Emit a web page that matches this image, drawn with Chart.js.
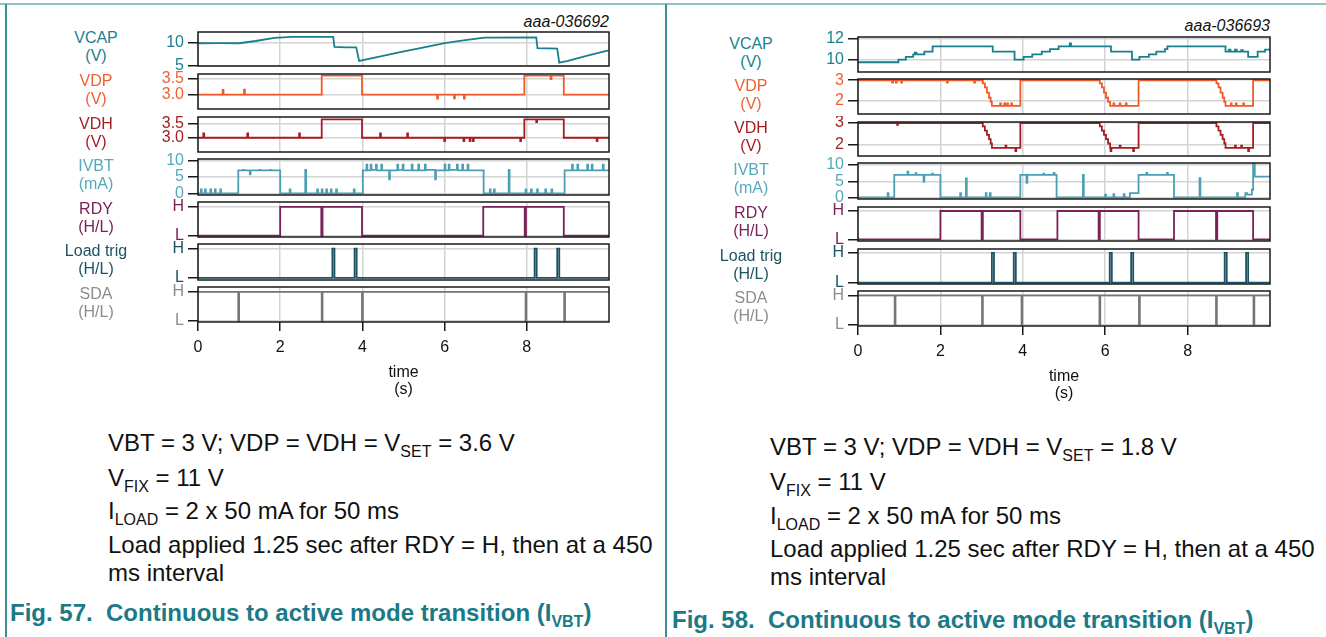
<!DOCTYPE html>
<html>
<head>
<meta charset="utf-8">
<script src="https://cdn.jsdelivr.net/npm/chart.js@4.4.1/dist/chart.umd.min.js"></script>
<style>
  body { margin: 0; width: 1326px; height: 637px; background: #fff; position: relative; overflow: hidden;
         font-family: 'Liberation Sans', Arial, sans-serif; }
  canvas { position: absolute; }
  .line { position: absolute; }
  .lbl { position: absolute; transform: translate(-50%, -50%); text-align: center; font-size: 16px; line-height: 18px; white-space: nowrap; }
  .txt { position: absolute; font-size: 24px; line-height: 28px; color: #111; white-space: nowrap; }
  .fig { position: absolute; font-size: 24px; line-height: 28px; font-weight: bold; color: #1b7a86; white-space: nowrap; }
  .code { position: absolute; font-size: 16px; font-style: italic; color: #111; white-space: nowrap; transform: translate(-100%, -50%); }
  sub { font-size: 16px; vertical-align: -6px; line-height: 0; }
</style>
</head>
<body>
<div class="line" style="left:0;top:3px;width:1326px;height:2px;background:#8fc1c7"></div>
<div class="line" style="left:5px;top:4px;width:2px;height:633px;background:#3b8f99"></div>
<div class="line" style="left:665px;top:4px;width:2px;height:633px;background:#3b8f99"></div>

<div class="code" style="left:609px;top:22px">aaa-036692</div>
<div class="code" style="left:1270px;top:26px">aaa-036693</div>

<div class="txt" style="left:108px;top:429px">VBT = 3 V; VDP = VDH = V<sub>SET</sub> = 3.6 V</div>
<div class="txt" style="left:108px;top:464px">V<sub>FIX</sub> = 11 V</div>
<div class="txt" style="left:108px;top:497px">I<sub>LOAD</sub> = 2 x 50 mA for 50 ms</div>
<div class="txt" style="left:108px;top:531px">Load applied 1.25 sec after RDY = H, then at a 450</div>
<div class="txt" style="left:108px;top:559px">ms interval</div>
<div class="fig" style="left:10px;top:599px">Fig. 57.&nbsp;&nbsp;Continuous to active mode transition (I<sub>VBT</sub>)</div>

<div class="txt" style="left:770px;top:433px">VBT = 3 V; VDP = VDH = V<sub>SET</sub> = 1.8 V</div>
<div class="txt" style="left:770px;top:468px">V<sub>FIX</sub> = 11 V</div>
<div class="txt" style="left:770px;top:502px">I<sub>LOAD</sub> = 2 x 50 mA for 50 ms</div>
<div class="txt" style="left:770px;top:535px">Load applied 1.25 sec after RDY = H, then at a 450</div>
<div class="txt" style="left:770px;top:563px">ms interval</div>
<div class="fig" style="left:672px;top:606px">Fig. 58.&nbsp;&nbsp;Continuous to active mode transition (I<sub>VBT</sub>)</div>

<script>
// time axis ticks (s)
const X_TICKS = [0, 2, 4, 6, 8];

// ---- Fig. 57 (VSET = 3.6 V), [time s, value] ----
const vcap57 = [[0,9.9],[0.5,9.95],[1.0,9.9],[1.4,10.4],[1.86,11.1],[2.29,11.3],[3.29,11.3],[3.32,9.1],[3.6,9.0],[3.85,9.0],[3.92,6.0],[4.3,6.7],[4.95,8.0],[5.5,9.0],[6.0,9.95],[6.5,10.6],[6.97,11.15],[8.23,11.2],[8.26,8.8],[8.74,8.7],[8.79,5.6],[9.0,6.0],[9.5,7.2],[9.99,8.3]];
const vdp57 = [[0,3.0],[0.6,3.15],[0.62,3.0],[1.12,3.16],[1.14,3.0],[3.01,3.61],[3.99,3.0],[5.82,2.87],[5.84,3.0],[6.23,2.88],[6.25,3.0],[6.47,2.87],[6.49,3.0],[7.94,3.61],[8.58,3.5],[8.6,3.61],[8.9,3.0],[10,3.0]];
const vdh57 = [[0,3.0],[0.13,3.15],[0.15,3.0],[1.2,3.15],[1.22,3.0],[2.46,3.15],[2.48,3.0],[3.01,3.65],[3.99,3.0],[4.43,3.15],[4.45,3.0],[5.09,3.15],[5.11,3.0],[5.99,2.88],[6.01,3.0],[6.46,2.88],[6.48,3.0],[6.61,2.88],[6.63,3.0],[6.69,2.88],[6.71,3.0],[7.84,2.88],[7.86,3.0],[7.94,3.65],[8.23,3.55],[8.25,3.65],[8.9,3.0],[9.7,2.88],[9.72,3.0],[10,3.0]];
const ivbt57 = [[0,0],[0.07,1.2],[0.09,0],[0.17,1.2],[0.19,0],[0.3,1.2],[0.32,0],[0.41,1.2],[0.43,0],[0.54,1.2],[0.56,0],
  [0.98,7.0],[1.1,7.2],[1.12,7.0],[1.26,5.8],[1.28,7.0],[1.5,7.2],[1.52,7.0],[1.75,7.2],[1.77,7.0],
  [2.0,0],[2.23,1.2],[2.25,0],[2.61,7.2],[2.63,0],[2.9,1.2],[2.92,0],[3.01,1.2],[3.03,0],[3.12,1.2],[3.14,0],[3.23,1.2],[3.25,0],[3.36,1.2],[3.38,0],[3.79,1.2],[3.81,0],
  [4.01,7.0],[4.1,8.8],[4.12,7.0],[4.2,8.8],[4.22,7.2],[4.33,8.8],[4.35,7.0],[4.46,8.8],[4.48,7.0],[4.65,4.3],[4.67,7.0],[4.85,8.8],[4.87,7.2],[4.98,8.8],[5.0,7.0],[5.2,8.8],[5.22,7.0],[5.36,8.8],[5.38,7.0],[5.52,8.8],[5.54,7.2],[5.77,4.3],[5.79,7.0],[6.0,8.8],[6.02,7.0],[6.1,8.8],[6.12,7.2],[6.3,8.8],[6.32,7.0],[6.43,8.8],[6.45,7.0],[6.56,8.8],[6.58,7.0],
  [6.95,0],[7.1,1.2],[7.12,0],[7.2,1.2],[7.22,0],[7.56,7.2],[7.58,0],[7.97,1.2],[7.99,0],[8.1,1.2],[8.12,0],[8.25,1.2],[8.27,0],[8.45,1.2],[8.47,0],[8.6,1.2],[8.62,0],
  [8.92,7.0],[9.1,8.8],[9.12,7.0],[9.23,8.8],[9.25,7.0],[9.47,8.8],[9.49,7.0],[9.58,8.8],[9.6,7.0],[9.85,8.8],[9.87,7.0],[10,7.0]];
const rdy57 = [[0,0],[2.0,1],[3.0,0],[3.03,1],[3.99,0],[6.94,1],[7.95,0],[7.98,1],[8.9,0],[10,0]];
const load57 = [[0,0],[3.27,1],[3.32,0],[3.81,1],[3.86,0],[8.19,1],[8.24,0],[8.74,1],[8.79,0],[10,0]];
const sda57 = [[0,1],[0.98,0],[1.0,1],[3.01,0],[3.03,1],[3.99,0],[4.01,1],[7.97,0],[7.99,1],[8.91,0],[8.93,1],[10,1]];

// ---- Fig. 58 (VSET = 1.8 V) ----
const vcap58 = [[0,9.75],[0.98,10.0],[1.16,10.25],[1.34,10.5],[1.38,10.65],[1.42,10.5],[1.61,10.75],[1.81,11.25],
  [3.27,10.75],[3.8,10.0],[4.02,10.25],[4.23,10.5],[4.46,10.75],[4.66,11.0],[4.87,11.25],[5.14,11.55],[5.17,11.25],
  [6.14,10.75],[6.65,10.0],[6.83,10.25],[7.06,10.5],[7.24,10.75],[7.45,11.0],[7.51,11.25],
  [8.92,10.75],[9.0,10.95],[9.04,10.75],[9.15,10.95],[9.19,10.75],[9.3,10.9],[9.34,10.75],[9.47,10.25],[9.7,10.75],[9.88,10.95],[10,10.95]];
const vdp58 = [[0,3.0],[0.83,2.88],[0.85,3.0],[0.92,2.88],[0.94,3.0],[1.05,2.88],[1.07,3.0],[2.16,2.88],[2.18,3.0],[2.82,2.88],[2.84,3.0],
  [3.03,2.85],[3.08,2.65],[3.13,2.4],[3.18,2.15],[3.22,1.95],[3.25,1.75],[3.45,1.88],[3.47,1.75],[3.55,1.88],[3.57,1.75],[3.62,1.88],[3.64,1.75],[3.72,1.88],[3.74,1.75],[3.94,3.0],
  [5.87,2.85],[5.92,2.65],[5.97,2.4],[6.02,2.15],[6.07,1.95],[6.12,1.75],[6.2,1.88],[6.22,1.75],[6.35,1.88],[6.37,1.75],[6.5,1.88],[6.52,1.75],[6.81,3.0],
  [8.7,2.85],[8.75,2.65],[8.8,2.4],[8.85,2.15],[8.89,1.95],[8.92,1.75],[9.05,1.88],[9.07,1.75],[9.17,1.88],[9.19,1.75],[9.35,1.88],[9.37,1.75],[9.59,3.0],[10,3.0]];
const vdh58 = [[0,3.0],[0.95,2.92],[0.97,3.0],
  [3.03,2.85],[3.08,2.65],[3.13,2.45],[3.18,2.25],[3.22,2.05],[3.25,1.85],[3.58,1.95],[3.6,1.85],[3.82,1.7],[3.84,1.85],[3.94,3.0],
  [5.87,2.85],[5.92,2.65],[5.97,2.45],[6.02,2.25],[6.07,2.05],[6.12,1.85],[6.13,1.7],[6.15,1.85],[6.35,1.95],[6.37,1.85],[6.68,1.7],[6.7,1.85],[6.81,3.0],
  [8.7,2.85],[8.75,2.65],[8.8,2.45],[8.85,2.25],[8.89,2.05],[8.92,1.85],[9.15,1.95],[9.17,1.85],[9.3,1.95],[9.32,1.85],[9.47,1.7],[9.49,1.85],[9.59,3.0],[10,3.0]];
const ivbt58 = [[0,0.2],[0.72,1.5],[0.74,0.2],[0.88,7.0],[1.2,8.0],[1.22,7.0],[1.4,7.5],[1.42,7.0],[1.59,5.0],[1.61,7.0],[1.8,7.4],[1.82,7.0],
  [2.0,0.2],[2.48,1.5],[2.5,0.2],[2.62,5.9],[2.64,0.2],[3.1,1.5],[3.12,0.2],[3.2,1.5],[3.22,0.2],
  [3.94,7.0],[4.09,4.6],[4.11,7.0],[4.5,7.4],[4.52,7.0],[4.75,7.6],[4.77,7.0],[4.82,0.2],
  [5.46,7.0],[5.48,0.2],[6.0,1.0],[6.02,0.2],[6.2,1.2],[6.22,0.2],[6.45,1.2],[6.47,0.2],[6.6,1.5],
  [6.81,7.0],[7.0,7.6],[7.02,7.0],[7.5,7.6],[7.52,7.0],[7.67,0.2],
  [8.29,6.0],[8.31,0.2],[9.2,1.5],[9.22,0.2],[9.4,1.5],[9.45,1.0],[9.56,2.5],[9.59,10.4],[9.63,6.5],[10,6.5]];
const rdy58 = [[0,0],[2.0,1],[3.0,0],[3.03,1],[3.94,0],[4.84,1],[5.84,0],[5.87,1],[6.81,0],[7.67,1],[8.69,0],[8.72,1],[9.59,0],[10,0]];
const load58 = [[0,0],[3.25,1],[3.3,0],[3.78,1],[3.83,0],[6.11,1],[6.16,0],[6.63,1],[6.68,0],[8.9,1],[8.95,0],[9.42,1],[9.47,0],[10,0]];
const sda58 = [[0,1],[0.89,0],[0.91,1],[3.01,0],[3.03,1],[3.97,0],[3.99,1],[5.86,0],[5.88,1],[6.82,0],[6.84,1],[8.69,0],[8.71,1],[9.6,0],[9.62,1],[10,1]];

// y tick values and their labels
const vcapTicks57 = [5, 10], vcapLabels57 = ['5', '10'];
const vTicks57 = [3.0, 3.5], vLabels57 = ['3.0', '3.5'];
const vcapTicks58 = [10, 12], vcapLabels58 = ['10', '12'];
const vTicks58 = [2, 3], vLabels58 = ['2', '3'];
const iTicks = [0, 5, 10], iLabels = ['0', '5', '10'];
const hlTicks = [0, 1], hlLabels = ['L', 'H'];

const LINE = { vcap:'#17808c', vdp:'#f05a28', vdh:'#a51d22', ivbt:'#4a9fb4', rdy:'#7b2159', load:'#1d5262', sda:'#767676' };
const TEXT = { vcap:'#1b8190', vdp:'#f26031', vdh:'#a51d22', ivbt:'#55a9bd', rdy:'#7b2159', load:'#1d5262', sda:'#8c8c8c' };

Chart.defaults.font.family = "'Liberation Sans', Arial, sans-serif";
Chart.defaults.font.size = 16;

const boxPlugin = {
  id: 'box',
  afterDraw(chart) {
    const { ctx, chartArea: a } = chart;
    ctx.save();
    ctx.strokeStyle = '#1a1a1a';
    ctx.lineWidth = 1.5;
    ctx.strokeRect(a.left, a.top, a.right - a.left, a.bottom - a.top);
    ctx.restore();
  }
};

const panels = [
  { left: 198, right: 609, labelX: 96, rows: [
    { name:['VCAP','(V)'], key:'vcap', top:32, bottom:66, data:vcap57, min:4.85, max:12.4, ticks:vcapTicks57, labels:vcapLabels57, stepped:false },
    { name:['VDP','(V)'], key:'vdp', top:74, bottom:109, data:vdp57, min:2.54, max:3.66, ticks:vTicks57, labels:vLabels57, stepped:true },
    { name:['VDH','(V)'], key:'vdh', top:117, bottom:152, data:vdh57, min:2.5, max:3.73, ticks:vTicks57, labels:vLabels57, stepped:true },
    { name:['IVBT','(mA)'], key:'ivbt', top:159, bottom:195, data:ivbt57, min:-0.5, max:10.5, ticks:iTicks, labels:iLabels, stepped:true },
    { name:['RDY','(H/L)'], key:'rdy', top:202, bottom:237, data:rdy57, min:-0.044, max:1.17, ticks:hlTicks, labels:hlLabels, stepped:true },
    { name:['Load trig','(H/L)'], key:'load', top:244, bottom:280, data:load57, min:-0.07, max:1.16, ticks:hlTicks, labels:hlLabels, stepped:true },
    { name:['SDA','(H/L)'], key:'sda', top:287, bottom:322, data:sda57, min:-0.034, max:1.17, ticks:hlTicks, labels:hlLabels, stepped:true }
  ]},
  { left: 858, right: 1270, labelX: 751, rows: [
    { name:['VCAP','(V)'], key:'vcap', top:37, bottom:72, data:vcap58, min:8.82, max:12.15, ticks:vcapTicks58, labels:vcapLabels58, stepped:true },
    { name:['VDP','(V)'], key:'vdp', top:79, bottom:114, data:vdp58, min:1.36, max:3.06, ticks:vTicks58, labels:vLabels58, stepped:true },
    { name:['VDH','(V)'], key:'vdh', top:122, bottom:156, data:vdh58, min:1.47, max:3.05, ticks:vTicks58, labels:vLabels58, stepped:true },
    { name:['IVBT','(mA)'], key:'ivbt', top:163, bottom:199, data:ivbt58, min:-0.3, max:10.6, ticks:iTicks, labels:iLabels, stepped:true },
    { name:['RDY','(H/L)'], key:'rdy', top:207, bottom:241, data:rdy58, min:-0.055, max:1.14, ticks:hlTicks, labels:hlLabels, stepped:true },
    { name:['Load trig','(H/L)'], key:'load', top:249, bottom:284, data:load58, min:-0.043, max:1.13, ticks:hlTicks, labels:hlLabels, stepped:true },
    { name:['SDA','(H/L)'], key:'sda', top:291, bottom:326, data:sda58, min:-0.054, max:1.15, ticks:hlTicks, labels:hlLabels, stepped:true }
  ]}
];

const AXW = 62, PADT = 6, PADR = 6, PADB = 6, XAXH = 80;

function addRow(panel, row, isBottom) {
  const cv = document.createElement('canvas');
  cv.width = panel.right - panel.left + AXW + PADR;
  cv.height = row.bottom - row.top + PADT + (isBottom ? XAXH : PADB);
  cv.style.left = (panel.left - AXW) + 'px';
  cv.style.top = (row.top - PADT) + 'px';
  document.body.appendChild(cv);

  const lbl = document.createElement('div');
  lbl.className = 'lbl';
  lbl.style.left = panel.labelX + 'px';
  lbl.style.top = ((row.top + row.bottom) / 2 - 2) + 'px';
  lbl.style.color = TEXT[row.key];
  lbl.innerHTML = row.name.join('<br>');
  document.body.appendChild(lbl);

  new Chart(cv, {
    type: 'line',
    data: {
      datasets: [{
        data: row.data.map(p => ({ x: p[0], y: p[1] })),
        borderColor: LINE[row.key],
        borderWidth: 1.8,
        pointRadius: 0,
        stepped: row.stepped ? 'before' : false,
        tension: 0
      }]
    },
    options: {
      responsive: false,
      animation: false,
      devicePixelRatio: 1,
      layout: { padding: { top: PADT, right: PADR, bottom: isBottom ? 0 : PADB, left: 0 } },
      plugins: { legend: { display: false }, tooltip: { enabled: false } },
      scales: {
        x: {
          type: 'linear', min: 0, max: 10,
          afterBuildTicks: s => { s.ticks = X_TICKS.map(v => ({ value: v })); },
          afterFit: s => { s.height = isBottom ? XAXH : 0; s.paddingLeft = 0; s.paddingRight = 0; },
          grid: { color: '#d4d4d4', lineWidth: 1.5, drawTicks: isBottom, tickLength: 9, tickColor: '#1a1a1a', tickWidth: 1.5 },
          border: { display: false },
          ticks: { display: isBottom, color: '#111', padding: 7, maxRotation: 0, autoSkip: false },
          title: { display: isBottom, text: ['time', '(s)'], color: '#111', font: { size: 16, lineHeight: 1.05 }, padding: { top: 0, bottom: 4 } }
        },
        y: {
          type: 'linear', min: row.min, max: row.max,
          afterBuildTicks: s => { s.ticks = row.ticks.map(v => ({ value: v })); },
          afterFit: s => { s.width = AXW; s.paddingTop = 0; s.paddingBottom = 0; },
          grid: { color: '#d4d4d4', lineWidth: 1.5, tickLength: 10, tickColor: '#1a1a1a', tickWidth: 1.5 },
          border: { display: false },
          ticks: { color: TEXT[row.key], padding: 4, autoSkip: false, callback: (v, i) => row.labels[i] }
        }
      }
    },
    plugins: [boxPlugin]
  });
}

panels.forEach(p => p.rows.forEach((r, i) => addRow(p, r, i === p.rows.length - 1)));
</script>
</body>
</html>
